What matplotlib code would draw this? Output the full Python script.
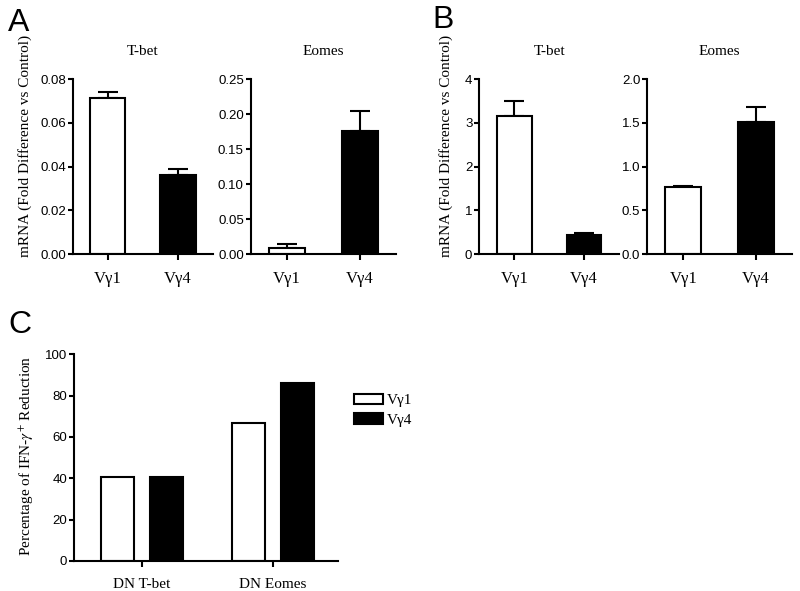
import matplotlib
matplotlib.use('Agg')
import matplotlib.pyplot as plt
from matplotlib.patches import Patch
import numpy as np

# data
groups = ['V\u03b31', 'V\u03b34']
a_tbet = [0.0713, 0.0361]
a_tbet_err = [0.0026, 0.0028]
a_eomes = [0.0092, 0.176]
a_eomes_err = [0.0055, 0.029]
b_tbet = [3.15, 0.44]
b_tbet_err = [0.35, 0.05]
b_eomes = [0.762, 1.505]
b_eomes_err = [0.02, 0.172]

c_cats = ['DN T-bet', 'DN Eomes']
c_vg1 = [40.5, 66.6]
c_vg4 = [40.8, 86.3]

SANS = 'Liberation Sans'
SERIF = 'Liberation Serif'
plt.rcParams['mathtext.fontset'] = 'stix'
LW = 1.5

fig = plt.figure(figsize=(8, 5.91), dpi=100)


def style_axes(ax):
    for s in ['top', 'right']:
        ax.spines[s].set_visible(False)
    for s in ['left', 'bottom']:
        ax.spines[s].set_linewidth(LW)
    ax.tick_params(axis='y', direction='out', length=3.5, width=LW, pad=1.5)
    ax.tick_params(axis='x', direction='out', length=4, width=LW, pad=8)
    for lab in ax.get_yticklabels():
        lab.set_fontfamily(SANS)
        lab.set_fontsize(9.5)
    for lab in ax.get_xticklabels():
        lab.set_fontfamily(SERIF)
        lab.set_fontsize(12)


def bar_panel(rect, vals, errs, ymax, yticks, fmt, title, ylabel=None, labx=None):
    ax = fig.add_axes(rect)
    x = np.arange(len(vals))
    ax.bar(x, vals, width=0.5, color=['white', 'black'], edgecolor='black',
           linewidth=LW, zorder=2)
    ax.errorbar(x, vals, yerr=[np.zeros(len(errs)), errs], fmt='none',
                ecolor='black', elinewidth=LW, capsize=7, capthick=LW, zorder=1)
    ax.set_xlim(-0.5, 1.5)
    ax.set_ylim(0, ymax)
    ax.set_yticks(yticks)
    ax.set_yticklabels([fmt.format(v) for v in yticks])
    ax.set_xticks(x)
    ax.set_xticklabels(groups)
    ax.set_title(title, fontfamily=SERIF, fontsize=11, pad=17)
    if ylabel:
        ax.set_ylabel(ylabel, fontfamily=SERIF, fontsize=11)
        ax.yaxis.set_label_coords(labx, 0.62)
    style_axes(ax)
    return ax


bottom, height = 0.5702, 0.2961
ylab = 'mRNA (Fold Difference vs Control)'
bar_panel([0.0909, bottom, 0.1754, height], a_tbet, a_tbet_err, 0.08,
          [0, 0.02, 0.04, 0.06, 0.08], '{:.2f}', 'T-bet', ylab, -0.29)
bar_panel([0.3134, bottom, 0.1816, height], a_eomes, a_eomes_err, 0.25,
          [0, 0.05, 0.10, 0.15, 0.20, 0.25], '{:.2f}', 'Eomes')
bar_panel([0.5991, bottom, 0.1746, height], b_tbet, b_tbet_err, 4,
          [0, 1, 2, 3, 4], '{:.0f}', 'T-bet', ylab, -0.19)
bar_panel([0.8091, bottom, 0.1805, height], b_eomes, b_eomes_err, 2.0,
          [0, 0.5, 1.0, 1.5, 2.0], '{:.1f}', 'Eomes')

# panel C
axc = fig.add_axes([0.0925, 0.0508, 0.33, 0.3498])
xc = np.arange(len(c_cats))
off = 0.187
w = 0.252
axc.bar(xc - off, c_vg1, width=w, color='white', edgecolor='black', linewidth=LW)
axc.bar(xc + off, c_vg4, width=w, color='black', edgecolor='black', linewidth=LW)
axc.set_xlim(-0.52, 1.50)
axc.set_ylim(0, 100)
axc.set_yticks(np.arange(0, 101, 20))
axc.set_xticks(xc)
axc.set_xticklabels(c_cats)
axc.set_ylabel(r'Percentage of IFN-$\gamma^{+}$ Reduction', fontfamily=SERIF,
               fontsize=11)
axc.yaxis.set_label_coords(-0.143, 0.51)
style_axes(axc)
for lab in axc.get_xticklabels():
    lab.set_fontsize(11)

handles = [Patch(facecolor='white', edgecolor='black', linewidth=LW),
           Patch(facecolor='black', edgecolor='black', linewidth=LW)]
fig.legend(handles, groups, loc='upper left', bbox_to_anchor=(0.443, 0.334),
           frameon=False, prop={'family': SERIF, 'size': 11},
           handlelength=1.9, handleheight=0.7, handletextpad=0.25,
           labelspacing=0.4, borderpad=0, borderaxespad=0)

# panel letters
for letter, x, y in [('A', 0.010, 0.948), ('B', 0.540, 0.952), ('C', 0.010, 0.436)]:
    fig.text(x, y, letter, fontfamily=SANS, fontsize=23, ha='left', va='baseline')

fig.savefig('out.png', dpi=100)
